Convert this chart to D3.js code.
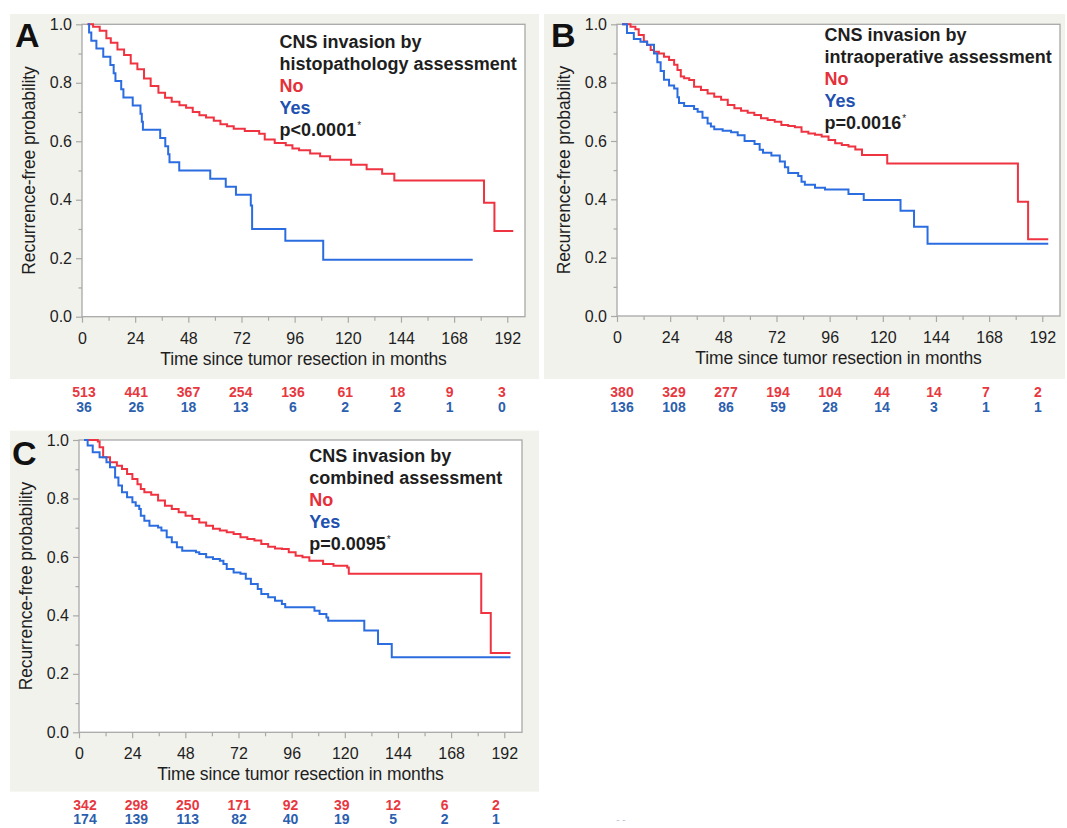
<!DOCTYPE html>
<html>
<head>
<meta charset="utf-8">
<script src="https://cdn.jsdelivr.net/npm/d3@7"></script>
<style>
  body { margin: 0; background: #ffffff; }
  svg { display: block; font-family: "Liberation Sans", Arial, Helvetica, sans-serif; }
</style>
</head>
<body>
<svg id="chart" width="1067" height="828"></svg>
<script>
// ---------- shared tick values ----------
const xTicks = [0, 24, 48, 72, 96, 120, 144, 168, 192];
const xMinorTicks = [12, 36, 60, 84, 108, 132, 156, 180];
const yTicks = [0, 0.2, 0.4, 0.6, 0.8, 1.0];
const yMinorTicks = [0.1, 0.3, 0.5, 0.7, 0.9];
const riskTimes = [0, 24, 48, 72, 96, 120, 144, 168, 192];
const groups = ["No", "Yes"];

// ---------- Panel A: histopathology assessment ----------
const histoNo = [[2.5,1.0],[5,0.992],[8,0.978],[11,0.952],[13,0.937],[16,0.914],[19,0.895],[22,0.866],[25,0.846],[28,0.815],[31,0.789],[34.5,0.766],[37.5,0.749],[40.5,0.735],[44,0.723],[47,0.715],[50,0.70],[53,0.689],[56,0.681],[59.5,0.67],[62.5,0.658],[65.5,0.651],[68.5,0.643],[73.5,0.635],[80,0.626],[82.5,0.606],[87,0.594],[92,0.586],[95,0.575],[98,0.569],[103,0.558],[107.5,0.549],[112,0.537],[121.5,0.520],[128.5,0.504],[135.5,0.489],[141,0.466],[181.5,0.39],[186.2,0.293],[194.7,0.293]];
const histoYes = [[2.6,1.0],[3.2,0.972],[4.2,0.944],[6.5,0.917],[9.6,0.889],[12.8,0.861],[14.3,0.833],[15.1,0.806],[17.7,0.778],[18.7,0.75],[22.9,0.722],[26.4,0.694],[27,0.667],[27.5,0.639],[35.3,0.611],[37.6,0.583],[38.9,0.556],[39.5,0.528],[43.9,0.50],[57.9,0.472],[64.9,0.444],[69.5,0.417],[76.2,0.38],[76.8,0.30],[91.8,0.26],[108.9,0.195],[176.4,0.195]];
const histoRiskNo = [513, 441, 367, 254, 136, 61, 18, 9, 3];
const histoRiskYes = [36, 26, 18, 13, 6, 2, 2, 1, 0];
const histoTitle = ["CNS invasion by", "histopathology assessment"];
const histoP = "p<0.0001";

// ---------- Panel B: intraoperative assessment ----------
const intraNo = [[2.3,1.0],[6.1,0.992],[8.3,0.983],[9.8,0.963],[12.1,0.941],[13.6,0.929],[15.2,0.912],[16.7,0.906],[18.9,0.90],[21.2,0.889],[23.5,0.878],[25.8,0.861],[27.3,0.843],[28.8,0.821],[30.3,0.815],[32.6,0.809],[34.8,0.786],[37.9,0.775],[40.9,0.763],[43.9,0.752],[47,0.741],[50,0.723],[53,0.712],[56,0.704],[59,0.697],[62,0.689],[65,0.678],[68,0.672],[71.2,0.666],[74.2,0.655],[77.3,0.651],[80.3,0.647],[83.3,0.632],[86.4,0.626],[89.4,0.621],[92.4,0.615],[95.5,0.603],[98.5,0.592],[101.5,0.586],[104.5,0.581],[107.6,0.571],[110.6,0.552],[122,0.523],[181,0.392],[185.6,0.263],[194.7,0.263]];
const intraYes = [[2.3,1.0],[4.5,0.97],[7.6,0.95],[10.6,0.94],[13.6,0.93],[16.7,0.90],[18.2,0.87],[19.7,0.84],[21.2,0.81],[23.5,0.79],[25.8,0.78],[27.3,0.75],[28,0.73],[30.3,0.72],[34.8,0.71],[36.4,0.70],[38.6,0.68],[40.9,0.66],[42.4,0.65],[43.9,0.64],[47.7,0.635],[51.5,0.63],[54.5,0.62],[57.6,0.60],[62.1,0.59],[64.4,0.57],[65.9,0.56],[69.7,0.55],[73.5,0.53],[75.8,0.51],[77.3,0.49],[81.8,0.48],[83.3,0.46],[84.8,0.45],[89.4,0.44],[93.9,0.434],[104.5,0.418],[111.4,0.398],[128,0.361],[134.1,0.306],[140.2,0.248],[194.7,0.248]];
const intraRiskNo = [380, 329, 277, 194, 104, 44, 14, 7, 2];
const intraRiskYes = [136, 108, 86, 59, 28, 14, 3, 1, 1];
const intraTitle = ["CNS invasion by", "intraoperative assessment"];
const intraP = "p=0.0016";

// ---------- Panel C: combined assessment ----------
const combNo = [[2.3,1.0],[8.5,0.995],[9.3,0.975],[10.9,0.941],[14,0.924],[17.1,0.912],[19.4,0.901],[21.7,0.884],[24.1,0.867],[26.4,0.849],[27.9,0.832],[29.5,0.821],[32.6,0.813],[35.7,0.793],[38.8,0.775],[41.9,0.764],[45,0.753],[48.1,0.741],[51.2,0.730],[54.3,0.718],[57.4,0.707],[60.5,0.696],[63.6,0.690],[66.7,0.684],[69.8,0.678],[72.9,0.667],[76,0.661],[79.2,0.656],[82.3,0.644],[85.4,0.635],[88.5,0.629],[91.6,0.627],[94.7,0.616],[97.8,0.604],[100.9,0.599],[104,0.587],[110.2,0.576],[114.9,0.570],[121.1,0.564],[121.8,0.542],[181.6,0.408],[185.9,0.271],[194.8,0.271]];
const combYes = [[2.3,1.0],[3.9,0.981],[6.2,0.958],[9.3,0.941],[12.4,0.924],[14,0.907],[16.3,0.872],[17.8,0.844],[19.4,0.821],[21.7,0.804],[24.1,0.787],[25.6,0.775],[27.2,0.764],[27.9,0.741],[29.5,0.724],[31.8,0.707],[35.7,0.701],[37.2,0.69],[39.6,0.667],[41.9,0.65],[44.2,0.633],[46.6,0.621],[52.8,0.616],[54.3,0.61],[57.4,0.599],[60.5,0.593],[63.6,0.587],[65.2,0.576],[66.7,0.559],[69.8,0.547],[72.9,0.542],[75.3,0.525],[77.6,0.507],[80.7,0.49],[82.3,0.473],[85.4,0.462],[88.5,0.45],[91.6,0.439],[93.1,0.428],[106.3,0.416],[108.6,0.405],[111.7,0.393],[112.5,0.382],[128.8,0.348],[135,0.302],[141.2,0.257],[194.8,0.257]];
const combRiskNo = [342, 298, 250, 171, 92, 39, 12, 6, 2];
const combRiskYes = [174, 139, 113, 82, 40, 19, 5, 2, 1];
const combTitle = ["CNS invasion by", "combined assessment"];
const combP = "p=0.0095";

// ---------- styling ----------
const RED_LINE = "#ef3340", BLUE_LINE = "#2b6de0";
const RED_TEXT = "#e5303a", BLUE_TEXT = "#2050b0";
const RED_RISK = "#e8383f", BLUE_RISK = "#2c5fae";
const BG = "#f2f2ed", FRAME = "#a8a8a8", INK = "#1e1e1e";

// layout of each panel (positions only)
const panels = [
  { letter: "A", bg: [10, 14, 529, 365], plot: [82, 24.3, 525, 316.7], letterPos: [15, 47],
    legendX: 279.6, legendY: 48.2, riskRange: [84, 502], riskY: [397, 411.5],
    no: histoNo, yes: histoYes, riskNo: histoRiskNo, riskYes: histoRiskYes, title: histoTitle, p: histoP },
  { letter: "B", bg: [544, 14, 521, 365], plot: [617, 24.3, 1060, 316], letterPos: [551, 47],
    legendX: 824.6, legendY: 41.4, riskRange: [622, 1038], riskY: [397, 411.5],
    no: intraNo, yes: intraYes, riskNo: intraRiskNo, riskYes: intraRiskYes, title: intraTitle, p: intraP },
  { letter: "C", bg: [10, 430.7, 529, 361], plot: [79, 440, 522, 732.3], letterPos: [12, 465],
    legendX: 309.2, legendY: 462, riskRange: [85, 496], riskY: [809.5, 824],
    no: combNo, yes: combYes, riskNo: combRiskNo, riskYes: combRiskYes, title: combTitle, p: combP }
];

const svg = d3.select("#chart");

panels.forEach(P => {
  const [L, T, R, B] = P.plot;
  const g = svg.append("g");

  // panel background
  g.append("rect").attr("x", P.bg[0]).attr("y", P.bg[1]).attr("width", P.bg[2]).attr("height", P.bg[3]).attr("fill", BG);
  // plot area
  g.append("rect").attr("x", L).attr("y", T).attr("width", R - L).attr("height", B - T).attr("fill", "#ffffff");

  const x = d3.scaleLinear().domain([0, 200]).range([L, R]);
  const y = d3.scaleLinear().domain([0, 1]).range([B, T]);

  // axes
  const xAxis = g.append("g").attr("transform", `translate(0,${B})`)
    .call(d3.axisBottom(x).tickValues(xTicks).tickSize(6).tickPadding(9.5).tickFormat(d3.format("d")));
  const xMinor = g.append("g").attr("transform", `translate(0,${B})`)
    .call(d3.axisBottom(x).tickValues(xMinorTicks).tickSize(4).tickFormat(""));
  const yAxis = g.append("g").attr("transform", `translate(${L},0)`)
    .call(d3.axisLeft(y).tickValues(yTicks).tickSize(6).tickPadding(4).tickFormat(d3.format(".1f")));
  const yMinor = g.append("g").attr("transform", `translate(${L},0)`)
    .call(d3.axisLeft(y).tickValues(yMinorTicks).tickSize(3.5).tickFormat(""));
  [xAxis, xMinor, yAxis, yMinor].forEach(a => {
    a.select(".domain").remove();
    a.selectAll(".tick line").attr("stroke", FRAME).attr("stroke-width", 1.2);
    a.selectAll(".tick text").attr("font-size", 16).attr("fill", INK)
      .attr("font-family", "\"Liberation Sans\", Arial, sans-serif");
  });

  // frame
  g.append("rect").attr("x", L).attr("y", T).attr("width", R - L).attr("height", B - T)
    .attr("fill", "none").attr("stroke", FRAME).attr("stroke-width", 1.3);

  // axis titles
  g.append("text").attr("x", (L + R) / 2).attr("y", B + 48)
    .attr("text-anchor", "middle").attr("font-size", 17.5).attr("fill", INK)
    .attr("letter-spacing", -0.1)
    .text("Time since tumor resection in months");
  g.append("text")
    .attr("transform", `translate(${L - 53.5},${(T + B) / 2}) rotate(-90)`)
    .attr("text-anchor", "middle").attr("dy", "0.35em").attr("font-size", 17.5).attr("fill", INK)
    .attr("letter-spacing", -0.1)
    .text("Recurrence-free probability");

  // curves
  const line = d3.line().x(d => x(d[0])).y(d => y(d[1])).curve(d3.curveStepAfter);
  g.append("path").datum(P.no).attr("d", line).attr("fill", "none")
    .attr("stroke", RED_LINE).attr("stroke-width", 2).attr("stroke-linejoin", "miter");
  g.append("path").datum(P.yes).attr("d", line).attr("fill", "none")
    .attr("stroke", BLUE_LINE).attr("stroke-width", 2).attr("stroke-linejoin", "miter");

  // panel letter
  g.append("text").attr("x", P.letterPos[0]).attr("y", P.letterPos[1])
    .attr("font-size", 34).attr("font-weight", "bold").attr("fill", "#111").text(P.letter);

  // legend
  const lh = 21.9;
  const leg = g.append("g").attr("font-size", 18).attr("font-weight", "bold");
  P.title.forEach((t, i) => {
    leg.append("text").attr("x", P.legendX).attr("y", P.legendY + i * lh).attr("fill", INK).text(t);
  });
  leg.append("text").attr("x", P.legendX).attr("y", P.legendY + 2 * lh).attr("fill", RED_TEXT).text(groups[0]);
  leg.append("text").attr("x", P.legendX).attr("y", P.legendY + 3 * lh).attr("fill", BLUE_TEXT).text(groups[1]);
  const pt = leg.append("text").attr("x", P.legendX).attr("y", P.legendY + 4 * lh).attr("fill", INK);
  pt.append("tspan").text(P.p);
  pt.append("tspan").attr("font-size", 10).attr("font-weight", "normal").attr("dy", -7).attr("dx", 1).text("*");

  // number at risk
  const rx = d3.scaleLinear().domain([0, 192]).range(P.riskRange);
  const risk = g.append("g").attr("font-size", 14).attr("font-weight", "bold").attr("text-anchor", "middle");
  risk.selectAll("text.no").data(P.riskNo).join("text").attr("class", "no")
    .attr("x", (d, i) => rx(riskTimes[i])).attr("y", P.riskY[0]).attr("fill", RED_RISK).text(d => d);
  risk.selectAll("text.yes").data(P.riskYes).join("text").attr("class", "yes")
    .attr("x", (d, i) => rx(riskTimes[i])).attr("y", P.riskY[1]).attr("fill", BLUE_RISK).text(d => d);
});

// small faint mark at bottom
svg.append("text").attr("x", 621).attr("y", 823).attr("text-anchor", "middle")
  .attr("font-size", 10).attr("fill", "#b9c3d3").text("- -");
</script>
</body>
</html>
